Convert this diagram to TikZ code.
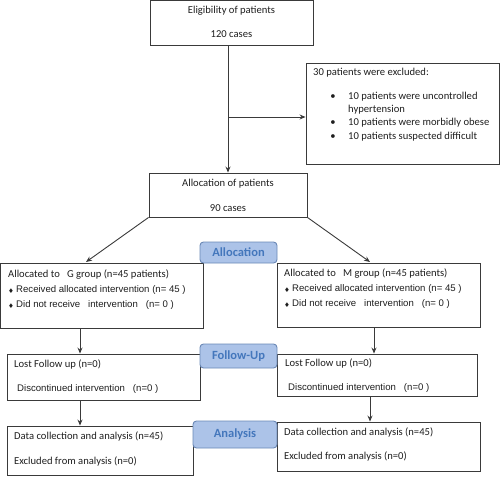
\documentclass[tikz,border=0pt]{standalone}
\usepackage{fontspec}
\setmainfont{Carlito}
\newfontfamily\arialf{Liberation Sans}
\newfontfamily\dejavu{DejaVu Sans}
\usetikzlibrary{arrows.meta}
\definecolor{txt}{HTML}{1E1E1E}
\definecolor{lblfill}{HTML}{ACC3E8}
\definecolor{lbldraw}{HTML}{6A88B5}
\definecolor{lbltxt}{HTML}{4477BC}
\definecolor{ln}{HTML}{3A3A3A}
\tikzset{
  box/.style={draw=ln, line width=0.9pt, rectangle, inner sep=0pt},
  lbl/.style={draw=lbldraw, line width=0.9pt, fill=lblfill, rounded corners=3.5pt, inner sep=0pt,
     text=lbltxt, font=\fontsize{12.5}{14}\selectfont\bfseries},
  arr/.style={draw=ln, line width=0.9pt, -{Stealth[length=6pt,width=5pt]}},
  tc/.style={anchor=mid, inner sep=0pt, text=txt, font=\fontsize{10.6}{12}\selectfont},
  tl/.style={anchor=mid west, inner sep=0pt, text=txt, font=\fontsize{10.6}{12}\selectfont},
  ta/.style={anchor=mid west, inner sep=0pt, text=txt, font=\fontsize{9.6}{11}\selectfont\arialf},
  dia/.style={anchor=mid, inner sep=0pt, text=txt, font=\fontsize{6.5}{7}\selectfont\dejavu},
}
\begin{document}
\begin{tikzpicture}[x=1pt,y=-1pt]
\useasboundingbox (0,0) rectangle (500,476);
% boxes
\node[box, minimum width=163pt, minimum height=45.5pt] (elig) at (231.5,23) {};
\node[box, minimum width=193pt, minimum height=101pt] (excl) at (402.5,113.5) {};
\node[box, minimum width=158pt, minimum height=44pt] (alloc) at (228,195) {};
\node[box, minimum width=202.5pt, minimum height=65pt] (gbox) at (101.75,295.5) {};
\node[box, minimum width=203pt, minimum height=64pt] (mbox) at (378.5,295) {};
\node[box, minimum width=193pt, minimum height=46pt] (gfol) at (103.5,377) {};
\node[box, minimum width=200pt, minimum height=42pt] (mfol) at (377,375) {};
\node[box, minimum width=186pt, minimum height=49pt] (gana) at (100,450.5) {};
\node[box, minimum width=203pt, minimum height=49pt] (mana) at (378.5,446.5) {};
% phase labels
\node[lbl, minimum width=77pt, minimum height=21pt] (lalloc) at (238.5,252.5) {Allocation};
\node[lbl, minimum width=77pt, minimum height=24pt] (lfol) at (238.5,356) {Follow-Up};
\node[lbl, minimum width=84pt, minimum height=27pt] (lana) at (235,434.5) {Analysis};
% texts
\node[tc] (t1) at (231.5,11) {Eligibility of patients};
\node[tc] (t2) at (231.5,35) {120 cases};
\node[tl] (t3) at (313,73) {30 patients were excluded:};
\node[tc] (b1) at (333,97) {•};
\node[tl] (t4) at (348,97) {10 patients were uncontrolled};
\node[tl] (t5) at (348,110) {hypertension};
\node[tc] (b2) at (333,123) {•};
\node[tl] (t6) at (348,123) {10 patients were morbidly obese};
\node[tc] (b3) at (333,137) {•};
\node[tl] (t7) at (348,137) {10 patients suspected difficult};
\node[tc] (t8) at (228,184) {Allocation of patients};
\node[tc] (t9) at (228,209) {90 cases};
\node[tl] (g1) at (8,275) {Allocated to \ \ G group (n=45 patients)};
\node[dia] (gd1) at (11,291) {♦};
\node[ta] (g2) at (16,290) {Received allocated intervention (n= 45 )};
\node[dia] (gd2) at (11,306) {♦};
\node[ta] (g3) at (16,305) {Did not receive \ \ intervention \ \ (n= 0 )};
\node[tl] (m1) at (284,274) {Allocated to \ \ M group (n=45 patients)};
\node[dia] (md1) at (287,290) {♦};
\node[ta] (m2) at (292,289) {Received allocated intervention (n= 45 )};
\node[dia] (md2) at (287,305) {♦};
\node[ta] (m3) at (292,304) {Did not receive \ \ intervention \ \ (n= 0 )};
\node[tl] (f1) at (14,365) {Lost Follow up (n=0)};
\node[ta] (f2) at (17,389) {Discontinued intervention \ \ (n=0 )};
\node[tl] (f3) at (285,364) {Lost Follow up (n=0)};
\node[ta] (f4) at (288,388) {Discontinued intervention \ \ (n=0 )};
\node[tl] (a1) at (14,437) {Data collection and analysis (n=45)};
\node[tl] (a2) at (14,462) {Excluded from analysis (n=0)};
\node[tl] (a3) at (284,433) {Data collection and analysis (n=45)};
\node[tl] (a4) at (284,457) {Excluded from analysis (n=0)};
% connectors
\coordinate (br) at (228,117);
\coordinate (gin) at (86,262);
\coordinate (min) at (370,262);
\coordinate (xl) at (80,0);
\coordinate (xr1) at (374,0);
\coordinate (xr2) at (370,0);
\draw[arr] (alloc.north |- elig.south) -- (alloc.north);
\draw[arr] (br) -- (br -| excl.west);
\draw[arr] (alloc.south west) -- (gin);
\draw[arr] (alloc.south east) -- (min);
\draw[arr] (gbox.south -| xl) -- (gfol.north -| xl);
\draw[arr] (mbox.south -| xr1) -- (mfol.north -| xr1);
\draw[arr] (gfol.south -| xl) -- (gana.north -| xl);
\draw[arr] (mfol.south -| xr2) -- (mana.north -| xr2);
\end{tikzpicture}
\end{document}
